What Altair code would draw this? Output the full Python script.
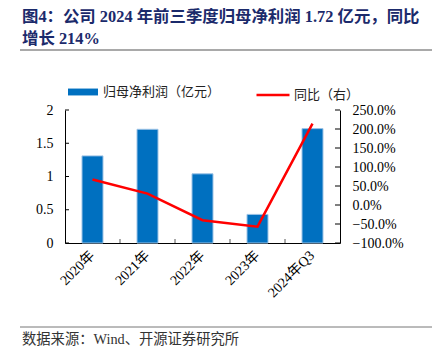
import altair as alt
import pandas as pd

categories = ["2020年", "2021年", "2022年", "2023年", "2024年Q3"]
profit = [1.31, 1.71, 1.04, 0.43, 1.72]          # 归母净利润（亿元）
yoy = [0.67, 0.30, -0.40, -0.57, 2.14]            # 同比（右）
left_ticks = [0, 0.5, 1, 1.5, 2]
right_ticks = [-1.0, -0.5, 0.0, 0.5, 1.0, 1.5, 2.0, 2.5]

bar_name = "归母净利润（亿元）"
line_name = "同比（右）"
title_lines = ["图4：公司 2024 年前三季度归母净利润 1.72 亿元，同比", "增长 214%"]
source_text = "数据来源：Wind、开源证券研究所"

df = pd.DataFrame({"cat": categories, "profit": profit, "yoy": yoy,
                   "s1": [bar_name] * 5, "s2": [line_name] * 5})
lt = pd.DataFrame({"v": left_ticks})
rt = pd.DataFrame({"v": right_ticks})
xt = pd.DataFrame({"cat": categories[1:]})

W, H = 275, 133
SERIF = "Liberation Serif, Noto Sans CJK SC"
CJK = "Noto Sans CJK SC"

xenc = alt.X("cat:N", sort=categories, title=None,
             scale=alt.Scale(domain=categories, paddingInner=0, paddingOuter=0),
             axis=alt.Axis(labelAngle=315, labelAlign="right", labelBaseline="middle",
                           labelPadding=10, ticks=False, domainColor="black",
                           labelFont=SERIF, labelFontSize=14, labelColor="black"))

ldom = alt.Scale(domain=[0, 2], nice=False)
rdom = alt.Scale(domain=[-1, 2.5], nice=False)

bars = alt.Chart(df).mark_bar(width=21, stroke="#9DC3E6", strokeWidth=1).encode(
    x=xenc,
    y=alt.Y("profit:Q", scale=ldom, title=None,
            axis=alt.Axis(values=left_ticks, format="~g", ticks=False, grid=False,
                          domainColor="black", labelPadding=12, labelFont=SERIF,
                          labelFontSize=14, labelColor="black")),
    fill=alt.Fill("s1:N", scale=alt.Scale(domain=[bar_name], range=["#0070C0"]),
                  legend=alt.Legend(title=None, orient="none", legendX=3, legendY=-33,
                                    symbolType="M-1,-0.23H1V0.23H-1Z", symbolSize=900,
                                    symbolStrokeWidth=0, labelFont=CJK, labelFontSize=13,
                                    labelColor="#222222", labelOffset=5)),
)

line = alt.Chart(df).mark_line(strokeWidth=2.5).encode(
    x=alt.X("cat:N", sort=categories),
    y=alt.Y("yoy:Q", scale=rdom, title=None,
            axis=alt.Axis(orient="right", values=right_ticks, format=".1%", ticks=False,
                          grid=False, domainColor="black", labelPadding=12,
                          labelFont=SERIF, labelFontSize=14, labelColor="black")),
    stroke=alt.Stroke("s2:N", scale=alt.Scale(domain=[line_name], range=["#FF0000"]),
                      legend=alt.Legend(title=None, orient="none", legendX=190, legendY=-33,
                                        symbolType="stroke", symbolSize=1089,
                                        symbolStrokeWidth=2.5, labelFont=CJK,
                                        labelFontSize=13, labelColor="#222222",
                                        labelOffset=3)),
)

lticks = alt.Chart(lt).mark_rule(color="black").encode(
    y=alt.Y("v:Q", scale=ldom, axis=None), x=alt.value(0), x2=alt.value(4))
rticks = alt.Chart(rt).mark_rule(color="black").encode(
    y=alt.Y("v:Q", scale=rdom, axis=None), x=alt.value(W), x2=alt.value(W - 5))
xticks = alt.Chart(xt).mark_rule(color="#555555").encode(
    x=alt.X("cat:N", sort=categories, bandPosition=0), y=alt.value(H), y2=alt.value(H - 4))

title_txt = alt.Chart(pd.DataFrame({"t": [title_lines]})).mark_text(
    align="left", baseline="alphabetic", font=SERIF, fontSize=16.4, fontWeight="bold",
    color="#1B2A6B", lineHeight=22).encode(
    text="t", x=alt.value(-43), y=alt.value(-88))
title_rule = alt.Chart(pd.DataFrame({"a": [0]})).mark_rule(color="#555555", strokeWidth=1.2).encode(
    x=alt.value(-45), x2=alt.value(367), y=alt.value(-60))
src_rule = alt.Chart(pd.DataFrame({"a": [0]})).mark_rule(color="#777777", strokeWidth=1).encode(
    x=alt.value(-45), x2=alt.value(367), y=alt.value(217))
src_txt = alt.Chart(pd.DataFrame({"t": [source_text]})).mark_text(
    align="left", baseline="middle", font=SERIF, fontSize=14.3, color="#333333").encode(
    text="t", x=alt.value(-43), y=alt.value(230))

chart = alt.layer(bars, lticks, xticks, line, rticks, title_txt, title_rule, src_rule, src_txt).resolve_scale(
    y="independent"
).properties(
    width=W, height=H,
    autosize=alt.AutoSizeParams(type="none"),
    padding={"left": 57, "top": 102, "right": 92, "bottom": 104},
).configure_view(stroke=None)

chart.save("out.html", embed_options={"renderer": "svg", "actions": False})
